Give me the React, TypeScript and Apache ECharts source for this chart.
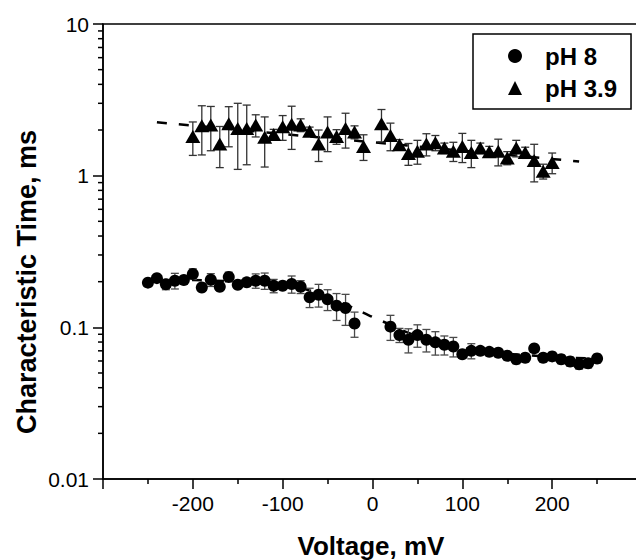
import React, { useEffect, useRef } from 'react';
import * as echarts from 'echarts';

const FONT = '"Liberation Sans", Arial, Helvetica, sans-serif';

// pH 8 (circles)
const circleV = [-250, -240, -230, -220, -210, -200, -190, -180, -170, -160, -150, -140, -130, -120, -110, -100, -90, -80, -70, -60, -50, -40, -30, -20,
  20, 30, 40, 50, 60, 70, 80, 90, 100, 110, 120, 130, 140, 150, 160, 170, 180, 190, 200, 210, 220, 230, 240, 250];
const circleT = [0.197, 0.211, 0.192, 0.203, 0.205, 0.225, 0.183, 0.206, 0.185, 0.215, 0.191, 0.198, 0.203, 0.203, 0.188, 0.188, 0.193, 0.185, 0.158, 0.164, 0.153, 0.139, 0.134, 0.106,
  0.101, 0.0889, 0.0828, 0.0889, 0.0828, 0.0796, 0.0767, 0.0748, 0.0665, 0.07, 0.07, 0.0689, 0.068, 0.0649, 0.0616, 0.063, 0.0726, 0.063, 0.0643, 0.0616, 0.0595, 0.0571, 0.058, 0.0623];
const circleErr = [0.009, 0.009, 0.015, 0.024, 0.012, 0.018, 0.01, 0.02, 0.01, 0.016, 0.01, 0.012, 0.022, 0.025, 0.019, 0.01, 0.025, 0.018, 0.023, 0.028, 0.024, 0.028, 0.031, 0.02,
  0.019, 0.0095, 0.015, 0.015, 0.014, 0.014, 0.011, 0.011, 0.004, 0.008, 0.004, 0.004, 0.004, 0.004, 0.004, 0.004, 0.004, 0.004, 0.004, 0.004, 0.004, 0.004, 0.004, 0.004];

// pH 3.9 (triangles)
const triV = [-200, -190, -180, -170, -160, -150, -140, -130, -120, -110, -100, -90, -80, -70, -60, -50, -40, -30, -20, -10,
  10, 20, 30, 40, 50, 60, 70, 80, 90, 100, 110, 120, 130, 140, 150, 160, 170, 180, 190, 200];
const triT = [1.81, 2.13, 2.16, 1.62, 2.2, 2.05, 2.05, 2.16, 1.79, 1.87, 2.1, 2.18, 2.16, 1.96, 1.62, 1.94, 1.81, 2.05, 1.94, 1.56,
  2.2, 1.84, 1.6, 1.4, 1.45, 1.62, 1.65, 1.52, 1.45, 1.56, 1.42, 1.52, 1.44, 1.45, 1.31, 1.52, 1.42, 1.26, 1.07, 1.22];
const triErr = [0.45, 0.76, 0.7, 0.49, 0.65, 0.95, 0.87, 0.36, 0.65, 0.15, 0.39, 0.69, 0.21, 0.13, 0.38, 0.5, 0.2, 0.53, 0.19, 0.3,
  0.53, 0.38, 0.13, 0.23, 0.26, 0.27, 0.19, 0.12, 0.21, 0.34, 0.29, 0.12, 0.12, 0.29, 0.13, 0.19, 0.12, 0.35, 0.12, 0.19];

// fitted curves (dashed)
const fitCV = [-250, -200, -150, -100, -70, -40, -20, 0, 20, 40, 70, 100, 150, 200, 250];
const fitCT = [0.207, 0.205, 0.2, 0.19, 0.175, 0.15, 0.133, 0.117, 0.104, 0.092, 0.08, 0.073, 0.067, 0.064, 0.062];
const fitTV = [-240, 230];
const fitTT = [2.25, 1.24];

// axes
const yTickLabels = ['0.01', '0.1', '1', '10'];
const yMinorTicks = [0.02, 0.03, 0.04, 0.05, 0.06, 0.07, 0.08, 0.09,
  0.2, 0.3, 0.4, 0.5, 0.6, 0.7, 0.8, 0.9,
  2, 3, 4, 5, 6, 7, 8, 9];
const X_MIN = -300;
const X_MAX = 300;

export default function App() {
  const ref = useRef<HTMLDivElement>(null);

  useEffect(() => {
    document.body.style.overflow = 'hidden';
    const chart = echarts.init(ref.current!, null, { renderer: 'svg' });

    const errRender = (color: string) => (params: any, api: any) => {
      const x = api.value(0);
      const y = api.value(1);
      const e = api.value(2);
      const top = api.coord([x, y + e]);
      const bot = api.coord([x, y - e]);
      const c = 4;
      const style = { stroke: color, lineWidth: 1.3 };
      return {
        type: 'group',
        children: [
          { type: 'line', shape: { x1: top[0], y1: top[1], x2: bot[0], y2: bot[1] }, style },
          { type: 'line', shape: { x1: top[0] - c, y1: top[1], x2: top[0] + c, y2: top[1] }, style },
          { type: 'line', shape: { x1: bot[0] - c, y1: bot[1], x2: bot[0] + c, y2: bot[1] }, style },
        ],
      };
    };

    const minorRender = (params: any, api: any) => {
      const p = api.coord([api.value(0), api.value(1)]);
      return {
        type: 'line',
        shape: { x1: p[0] - 5, y1: p[1], x2: p[0], y2: p[1] },
        style: { stroke: '#000', lineWidth: 1.5 },
      };
    };

    chart.setOption({
      animation: false,
      backgroundColor: '#fff',
      grid: {
        left: 103, top: 24, right: 0, bottom: 81,
        show: true, borderColor: '#000', borderWidth: 1.5, backgroundColor: 'transparent',
      },
      xAxis: {
        type: 'value', min: X_MIN, max: X_MAX, interval: 100,
        axisLine: { show: true, onZero: false, lineStyle: { color: '#000', width: 1.5 } },
        axisTick: { show: true, length: 10, lineStyle: { color: '#000', width: 1.5 } },
        minorTick: { show: true, splitNumber: 2, length: 5, lineStyle: { color: '#000', width: 1.5 } },
        splitLine: { show: false },
        axisLabel: { color: '#000', fontSize: 21, fontFamily: FONT, margin: 14, showMinLabel: false, showMaxLabel: false },
      },
      yAxis: {
        type: 'log', logBase: 10, min: 0.01, max: 10,
        axisLine: { show: true, onZero: false, lineStyle: { color: '#000', width: 1.5 } },
        axisTick: { show: true, length: 10, lineStyle: { color: '#000', width: 1.5 } },
        splitLine: { show: false },
        axisLabel: {
          color: '#000', fontSize: 21, fontFamily: FONT, margin: 14,
          formatter: (v: number, i: number) => yTickLabels[i] ?? String(v),
        },
      },
      legend: {
        data: [{ name: 'pH 8', icon: 'circle' }, { name: 'pH 3.9', icon: 'triangle' }],
        orient: 'vertical', left: 473, top: 34,
        itemWidth: 14, itemHeight: 14, itemGap: 8,
        padding: [10, 14, 9, 35],
        borderColor: '#000', borderWidth: 1.5,
        selectedMode: false,
        textStyle: { color: '#000', fontSize: 24, fontWeight: 'bold', fontFamily: FONT, lineHeight: 24, padding: [0, 0, 0, 18] },
      },
      graphic: [
        {
          type: 'text', x: 27, y: 282, rotation: Math.PI / 2,
          style: { text: 'Characteristic Time, ms', font: `bold 27px ${FONT}`, fill: '#000', align: 'center', verticalAlign: 'middle' },
        },
        {
          type: 'text', x: 371, y: 546,
          style: { text: 'Voltage, mV', font: `bold 26px ${FONT}`, fill: '#000', align: 'center', verticalAlign: 'middle' },
        },
      ],
      series: [
        {
          name: 'fit8', type: 'line', z: 1, smooth: 0.3, symbol: 'none',
          data: fitCV.map((v, i) => [v, fitCT[i]]),
          lineStyle: { color: '#000', width: 2.5, type: [10, 12] },
        },
        {
          name: 'fit39', type: 'line', z: 1, symbol: 'none',
          data: fitTV.map((v, i) => [v, fitTT[i]]),
          lineStyle: { color: '#000', width: 2.5, type: [10, 12] },
        },
        {
          name: 'err8', type: 'custom', z: 2, renderItem: errRender('#4a4a4a'),
          data: circleV.map((v, i) => [v, circleT[i], circleErr[i]]),
        },
        {
          name: 'err39', type: 'custom', z: 2, renderItem: errRender('#333'),
          data: triV.map((v, i) => [v, triT[i], triErr[i]]),
        },
        {
          name: 'pH 8', type: 'scatter', z: 3, symbol: 'circle', symbolSize: 12,
          itemStyle: { color: '#000', opacity: 1 },
          data: circleV.map((v, i) => [v, circleT[i]]),
        },
        {
          name: 'pH 3.9', type: 'scatter', z: 3, symbol: 'triangle', symbolSize: [15, 13],
          itemStyle: { color: '#000', opacity: 1 },
          data: triV.map((v, i) => [v, triT[i]]),
        },
        {
          name: 'yminor', type: 'custom', z: 4, renderItem: minorRender,
          data: yMinorTicks.map((v) => [X_MIN, v]),
        },
      ],
    });

    return () => chart.dispose();
  }, []);

  return <div ref={ref} style={{ position: 'fixed', left: 0, top: 0, width: 642, height: 560 }} />;
}
